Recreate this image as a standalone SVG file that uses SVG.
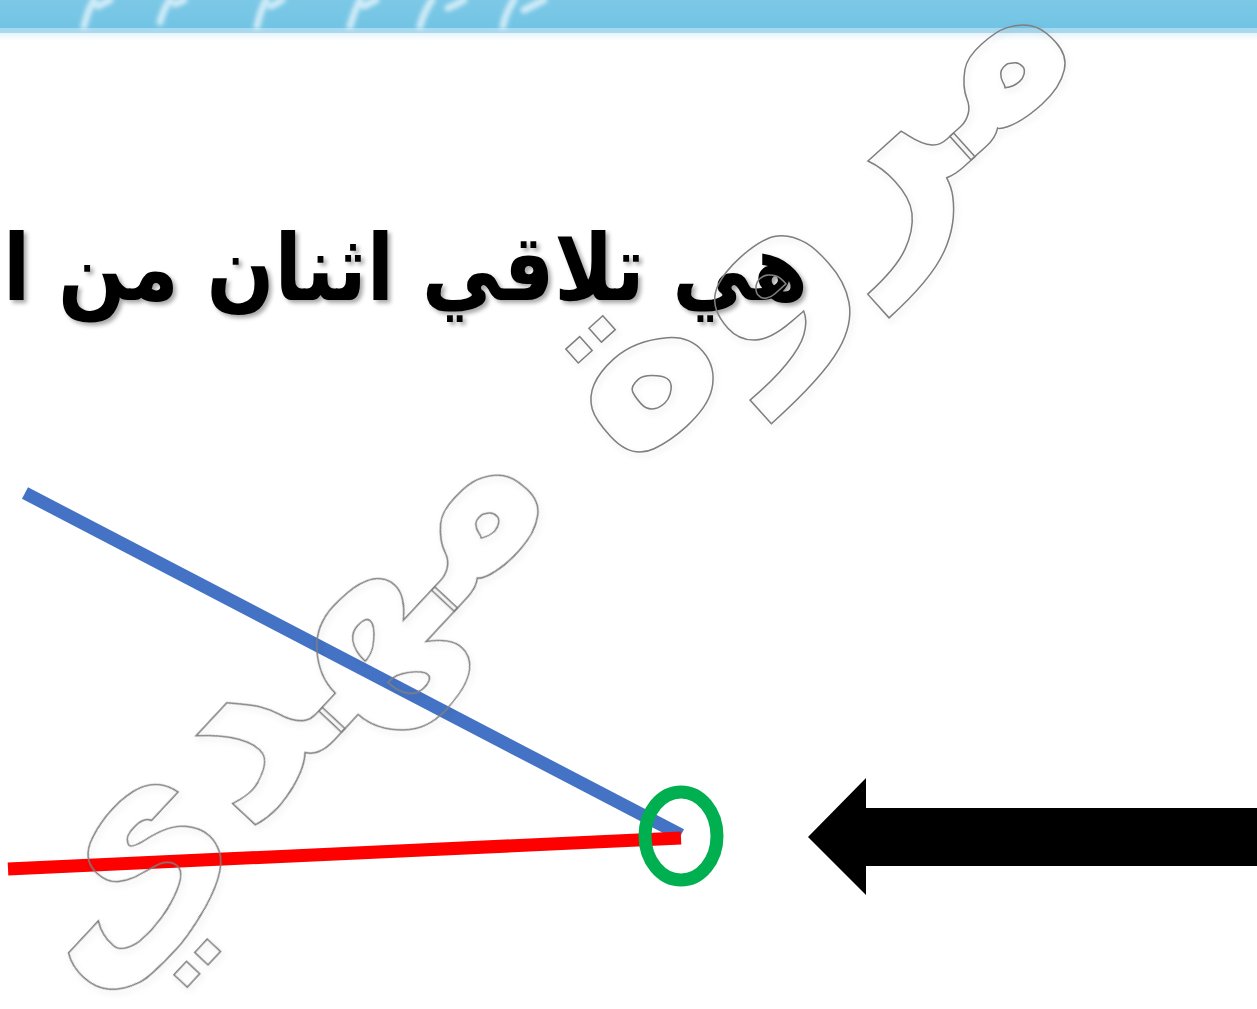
<svg xmlns="http://www.w3.org/2000/svg" width="1257" height="1009" viewBox="0 0 1257 1009">
<defs>
<linearGradient id="bar" x1="0" y1="0" x2="0" y2="1">
<stop offset="0" stop-color="#7cc8e6"/>
<stop offset="1" stop-color="#72c4e4"/>
</linearGradient>
<linearGradient id="fade" x1="0" y1="0" x2="0" y2="1">
<stop offset="0" stop-color="#e6f4fa"/>
<stop offset="1" stop-color="#ffffff"/>
</linearGradient>
<filter id="blur" x="-50%" y="-50%" width="200%" height="200%">
<feGaussianBlur stdDeviation="2"/>
</filter>
<filter id="sh" x="-5%" y="-10%" width="110%" height="130%">
<feDropShadow dx="3" dy="3" stdDeviation="2" flood-color="#000" flood-opacity="0.35"/>
</filter>
<filter id="wsh" x="-10%" y="-10%" width="120%" height="120%">
<feDropShadow dx="2" dy="3" stdDeviation="3" flood-color="#000" flood-opacity="0.12"/>
</filter>
<style>
.title{font-family:"DejaVu Sans",sans-serif;font-weight:bold;font-size:92px;fill:#000}
.wm{font-family:"DejaVu Sans",sans-serif;font-weight:bold;fill:none;stroke:#7f7f7f;stroke-width:1.5}
.drip{fill:none;stroke:#f4fbff;stroke-width:7;stroke-linecap:round;opacity:0.7}
</style>
</defs>
<g id="header">
<rect x="0" y="0" width="1257" height="28" fill="url(#bar)"/>
<rect x="0" y="28" width="1257" height="5" fill="#a9d9ee"/>
<rect x="0" y="33" width="1257" height="8" fill="url(#fade)"/>
<g filter="url(#blur)">
<path class="drip" d="M84 26 Q88 10 94 0 M98 6 Q104 3 110 0"/>
<path class="drip" d="M160 22 Q164 8 170 0 M175 4 Q180 2 184 0"/>
<path class="drip" d="M257 26 Q260 12 266 0 M271 6 Q278 3 282 0"/>
<path class="drip" d="M350 26 Q354 12 360 0 M364 6 Q370 3 376 0"/>
<path class="drip" d="M420 26 Q424 12 432 0 M448 8 Q456 5 464 0"/>
<path class="drip" d="M503 26 Q506 12 514 0 M524 10 Q534 5 544 0"/>
</g>
</g>
<g id="title">
<text class="title" x="808" y="300" direction="rtl" text-anchor="start" textLength="805" lengthAdjust="spacingAndGlyphs" filter="url(#sh)">هي تلاقي اثنان من ا</text>
</g>
<g id="connectors">
<line x1="25" y1="493" x2="681" y2="835" stroke="#4472c4" stroke-width="13"/>
<line x1="8" y1="869" x2="681" y2="838" stroke="#ff0000" stroke-width="13"/>
</g>
<g id="vertex-marker">
<ellipse cx="681" cy="836" rx="36" ry="44" fill="none" stroke="#00b050" stroke-width="13"/>
</g>
<g id="arrow">
<path d="M808 837 L866 778 L866 808 L1257 808 L1257 866 L866 866 L866 895 Z" fill="#000"/>
</g>
<g id="watermarks" filter="url(#wsh)">
<text class="wm" font-size="255" transform="translate(858 262) rotate(-42)" text-anchor="middle" direction="rtl">مروة</text>
<text class="wm" font-size="250" transform="translate(325 750) rotate(-47)" text-anchor="middle" direction="rtl">مهدي</text>
</g>
</svg>
